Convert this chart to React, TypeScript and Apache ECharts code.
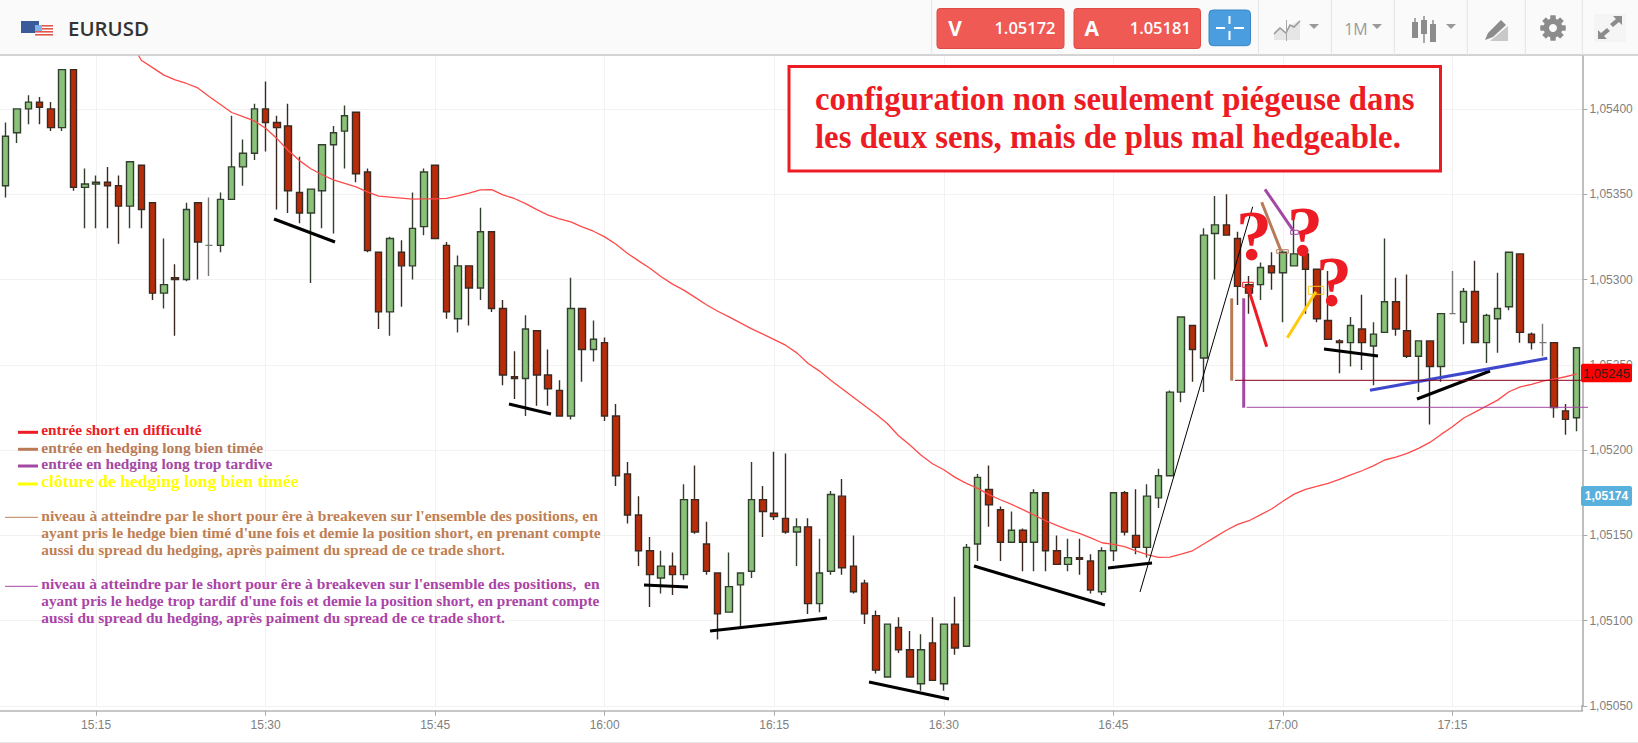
import React, { useEffect, useRef } from "react";
import * as echarts from "echarts";

// candle values, in points above 1.05000 (one point = 0.00001)
const BASE = 1.05;
const POINT = 0.00001;
const opens = [355,386,400,404,400,389,423,354,356,357,355,343,367,345,292,301,300,345,320,320,347,366,374,400,392,390,351,339,352,379,387,398,363,316,281,316,308,331,367,320,277,308,295,328,283,243,242,270,244,235,220,283,259,263,220,186,162,141,125,132,127,171,145,128,105,121,129,171,163,160,152,155,110,129,173,132,122,103,67,96,83,63,87,63,98,85,145,177,165,146,153,146,175,141,133,137,135,117,141,175,150,143,172,185,234,273,254,327,332,324,297,297,308,304,308,315,306,276,264,263,271,261,269,287,270,255,264,249,280,275,293,263,277,284,315,268,263,263,223,219];
const closes = [384,400,404,401,389,423,354,356,357,355,343,369,341,292,297,300,341,322,320,347,366,374,400,392,389,352,339,353,379,386,396,362,317,281,324,308,330,363,324,281,308,295,328,283,244,242,271,244,236,220,283,259,265,220,185,162,141,127,132,127,171,152,129,104,120,128,171,164,161,152,155,110,128,174,131,117,104,71,98,83,67,83,65,98,84,143,184,168,146,153,146,175,141,133,137,136,118,141,175,152,143,173,185,234,278,259,326,332,326,296,292,307,304,316,315,306,277,265,263,273,263,268,287,271,255,264,249,280,280,293,263,279,283,316,269,263,263,225,218,260];
const lows = [348,380,391,391,387,387,352,330,330,330,321,330,330,288,283,267,299,300,302,316,347,355,370,375,341,339,333,298,330,327,365,357,316,271,267,284,300,326,324,277,269,273,288,281,238,230,220,226,226,220,218,240,252,217,179,157,132,108,116,115,124,151,127,89,105,96,125,149,159,151,132,104,105,127,127,116,98,69,67,81,67,59,65,59,80,85,135,155,135,146,129,129,129,133,129,127,116,115,135,150,139,137,166,185,228,240,234,300,326,285,280,288,294,275,308,280,275,265,245,249,247,238,269,267,254,234,215,240,280,262,263,251,257,282,263,259,255,219,209,211];
const highs = [392,400,408,407,404,423,423,365,361,366,361,369,367,345,324,309,345,345,348,351,396,382,403,416,396,403,372,353,379,390,402,398,365,316,325,323,351,365,367,322,314,308,342,328,288,258,279,270,259,241,301,283,276,266,227,193,173,149,141,140,180,191,158,128,140,128,193,179,199,198,160,160,148,176,183,150,124,106,98,102,94,92,102,98,114,145,186,191,167,164,154,177,175,150,148,148,139,143,175,176,177,180,189,235,278,273,330,349,350,328,302,310,316,317,339,315,306,305,265,278,291,275,324,301,303,264,264,280,305,295,311,280,304,316,315,269,274,263,227,260];
const movingAverage = [null,null,null,null,null,null,null,null,null,null,null,440,428.5,424.2,419.8,417,414.9,412.3,407.3,402.6,397.9,395.5,393,388.7,382.6,375.6,369.7,364.9,361.4,358.4,356.3,354.3,351.4,348.9,348.3,347.7,347.1,347.3,347.3,347.5,349,350.6,352.5,352.7,349.6,347.5,344.5,341,337.7,335.5,333.8,330.9,328.3,325,320.7,315.4,310.9,306.6,301.6,297.3,293.8,289.5,285.2,281.4,278.1,274.6,271.1,268,264.8,261.5,257,250.8,246.3,241,236,231,226,221,215.6,208.4,203,197,192,188.5,184,180.5,177.6,173.9,170.9,168.2,165.1,161.9,158.6,155.9,153.3,151.2,148.5,145.7,144.8,143.4,140.9,138.7,137.1,137.3,139,141,145,149,153,156.5,158.6,162,165.5,170,174.2,177,178.7,180.5,182.8,185.5,187.9,190.8,194.2,195.9,198.1,201,204.5,209.2,213.7,218.8,222.3,225.8,229.3,234.2,237.1,238.5,240.4,241.6,243,244.7];

const FIRST_MINUTE = 15 * 60 + 7;
const categories = opens.map((_, i) => {
  const m = FIRST_MINUTE + i;
  return `${Math.floor(m / 60)}:${String(m % 60).padStart(2, "0")}`;
});
const isQuarter = (i: number) => (FIRST_MINUTE + i) % 15 === 0;

const priceLabel = (v: number) => v.toFixed(5).replace(".", ",");

const legendShort = "entrée short en difficulté";
const legendHedgeGood = "entrée en hedging long bien timée";
const legendHedgeLate = "entrée en hedging long trop tardive";
const legendClose = "clôture de hedging long bien timée";
const noteGood = [
  "niveau à atteindre par le short pour êre à breakeven sur l'ensemble des positions, en",
  "ayant pris le hedge bien timé d'une fois et demie la position short, en prenant compte",
  "aussi du spread du hedging, après paiment du spread de ce trade short.",
];
const noteLate = [
  "niveau à atteindre par le short pour êre à breakeven sur l'ensemble des positions,  en",
  "ayant pris le hedge trop tardif d'une fois et demie la position short, en prenant compte",
  "aussi du spread du hedging, après paiment du spread de ce trade short.",
];
const titleLines = ["configuration non seulement piégeuse dans", "les deux sens, mais de plus mal hedgeable."];

const RED = "#ed1c24";
const BROWN = "#b97a57";
const PURPLE = "#a349a4";
const AMBER = "#ffc90e";
const SERIF = '"Liberation Serif", serif';
const SANS = '"Liberation Sans", sans-serif';
const OPEN = '"Open Sans", sans-serif';

const seg = (x1: number, y1: number, x2: number, y2: number, stroke: string, lineWidth = 3, z = 60) => ({
  type: "line", silent: true, z, shape: { x1, y1, x2, y2 }, style: { stroke, lineWidth },
});
const box = (x: number, y: number, w: number, h: number, fill: string, stroke?: string, lineWidth = 1, r = 0, z = 60) => ({
  type: "rect", silent: true, z, shape: { x, y, width: w, height: h, r },
  style: { fill, stroke: stroke || "none", lineWidth },
});
const txt = (text: string, x: number, y: number, font: string, fill: string, textAlign = "left", z = 70) => ({
  type: "text", silent: true, z, style: { text, x, y, font, fill, textAlign, textVerticalAlign: "middle" },
});
const tri = (cx: number, y: number, z = 70) => ({
  type: "polygon", silent: true, z, shape: { points: [[cx - 5, y], [cx + 5, y], [cx, y + 5]] }, style: { fill: "#9a9a9a" },
});

function annotations(): any[] {
  const out: any[] = [];
  // black trend lines
  [
    [274, 219, 335, 242], [509, 404, 551, 414], [644, 585, 688, 587], [710, 631, 827, 618],
    [869, 682, 949, 699], [974, 566, 1105, 605], [1108, 568, 1152, 563],
    [1324, 349, 1378, 356], [1417, 399, 1490, 371],
  ].forEach((s) => out.push(seg(s[0], s[1], s[2], s[3], "#000")));
  out.push(seg(1140, 592, 1252.7, 206.7, "#000", 1));
  out.push(seg(1370, 390.3, 1547.3, 358.3, "#3f48cc"));
  // entries
  out.push(seg(1261.7, 202.3, 1281, 251, BROWN));
  out.push(seg(1265, 189.3, 1293.3, 230.7, PURPLE));
  out.push(seg(1248.3, 288.3, 1266.7, 346.7, RED));
  out.push(seg(1287.3, 337.7, 1316, 291.7, AMBER));
  out.push(box(1290.7, 230.3, 7.6, 4, "none", PURPLE, 1));
  out.push(box(1276.7, 249.7, 11.6, 3.6, "none", BROWN, 1));
  out.push(box(1242.7, 282.3, 10.6, 5, "none", RED, 1));
  out.push(box(1308.3, 286.3, 15.4, 8, "none", AMBER, 1));
  // levels
  out.push(seg(1231.7, 298.3, 1231.7, 380.7, BROWN));
  out.push(seg(1243.7, 298.3, 1243.7, 407.7, PURPLE));
  out.push(seg(1235, 380.3, 1587, 380.3, "#880015", 1));
  out.push(seg(1246.7, 407.3, 1588, 407.3, PURPLE, 1));
  // question marks
  const qFont = `bold 72px ${SERIF}`;
  out.push(txt("?", 1254, 236, qFont, RED, "center"));
  out.push(txt("?", 1305, 232, qFont, RED, "center"));
  out.push(txt("?", 1334, 282, qFont, RED, "center"));
  // title box
  out.push(box(789, 66.5, 651.5, 104.5, "#fff", RED, 3));
  const tFont = `bold 32.8px ${SERIF}`;
  out.push(txt(titleLines[0], 815, 99, tFont, RED));
  out.push(txt(titleLines[1], 815, 137, tFont, RED));
  // legend
  const lf = (size: number) => `bold ${size}px ${SERIF}`;
  out.push(seg(18, 432.3, 38, 432.3, RED));
  out.push(txt(legendShort, 41.3, 429.6, lf(15.3), RED));
  out.push(seg(18, 449.3, 38, 449.3, BROWN));
  out.push(txt(legendHedgeGood, 41.3, 447, lf(15.5), BROWN));
  out.push(seg(18, 466, 38, 466, PURPLE));
  out.push(txt(legendHedgeLate, 41.3, 463.7, lf(15.4), PURPLE));
  out.push(seg(18, 484, 38, 484, "#ffff00"));
  out.push(txt(legendClose, 41.3, 481.2, lf(17.6), "#ffff00"));
  out.push(seg(5, 517.3, 38, 517.3, "#c0805a", 1));
  const goodSizes = [15.6, 15.5, 15.3];
  noteGood.forEach((t, i) => out.push(txt(t, 41.3, 515.7 + 17 * i, lf(goodSizes[i]), "#bf7f53")));
  out.push(seg(5, 586.3, 38, 586.3, PURPLE, 1));
  const lateSizes = [15.54, 15.24, 15.3];
  noteLate.forEach((t, i) => out.push(txt(t, 41.3, 583.7 + 17 * i, lf(lateSizes[i]), "#ab44a8")));
  // price tags
  out.push(box(1581, 363.7, 51, 18.6, "#ff0000", undefined, 1, 2, 65));
  out.push(txt(priceLabel(1.05245), 1606.5, 373.3, `13px ${SANS}`, "#3a1a1a", "center"));
  out.push(box(1581, 486, 51, 20, "#5ab0dc", undefined, 1, 2, 65));
  out.push(txt(priceLabel(1.05174), 1606.5, 496, `bold 12px ${SANS}`, "#fff", "center"));
  out.push(seg(1582, 705, 1582, 711, "#aaaaaa", 1.5, 40));
  out.push(seg(0, 742.5, 1638, 742.5, "#e6e6e6", 1, 40));
  return out;
}

function header(): any[] {
  const z = 50;
  const h: any[] = [];
  h.push(box(0, 0, 1638, 55, "#fafafa", undefined, 1, 0, z));
  h.push(seg(0, 55, 1638, 55, "#c9c9c9", 1.5, z));
  // flags
  h.push(box(21, 21, 18, 12, "#3a5a9c", undefined, 1, 0, z + 1));
  h.push(box(35, 25, 18, 12, "#fff", undefined, 1, 0, z + 2));
  [25, 28, 31, 34].forEach((y) => h.push(box(35, y, 18, 1.6, "#e2574c", undefined, 1, 0, z + 3)));
  h.push(box(35, 25, 7, 6, "#7fb2e5", undefined, 1, 0, z + 4));
  h.push(txt("EURUSD", 68, 28, `600 20.4px ${OPEN}`, "#333"));
  // separators
  [931.7, 1258.5, 1331.4, 1394.3, 1467.3, 1525.3, 1582.3].forEach((x) => h.push(seg(x, 0, x, 55, "#e4e4e4", 1, z + 1)));
  // quote buttons
  h.push(box(937, 8.5, 127, 40, "#ef5a55", "#dd4a45", 1, 3, z + 1));
  h.push(txt("V", 955, 28, `bold 21px ${OPEN}`, "#fff", "center"));
  h.push(txt("1.05172", 1025, 27.5, `600 16.5px ${OPEN}`, "#fff", "center"));
  h.push(box(1074, 8.5, 126.5, 40, "#ef5a55", "#dd4a45", 1, 3, z + 1));
  h.push(txt("A", 1091.7, 28, `bold 21px ${OPEN}`, "#fff", "center"));
  h.push(txt("1.05181", 1160.3, 27.5, `600 16.5px ${OPEN}`, "#fff", "center"));
  // crosshair button
  h.push(box(1209, 10, 41.5, 35.7, "#4a9ee0", "#3b86c4", 1, 4, z + 1));
  [[1229.5, 16, 1229.5, 24], [1229.5, 31, 1229.5, 40], [1216, 28, 1225, 28], [1234, 28, 1244, 28]].forEach((s) =>
    h.push(seg(s[0], s[1], s[2], s[3], "#fff", 2, z + 2))
  );
  // chart type icon
  h.push({ type: "polygon", silent: true, z: z + 1, shape: { points: [[1274, 40], [1274, 32], [1280, 27], [1286, 33], [1286, 40]] }, style: { fill: "#e6e6e6" } });
  h.push({ type: "polygon", silent: true, z: z + 1, shape: { points: [[1287, 40], [1287, 28], [1293, 24], [1300, 20], [1300, 40]] }, style: { fill: "#e6e6e6" } });
  h.push({ type: "polyline", silent: true, z: z + 2, shape: { points: [[1274, 34], [1280, 28], [1286, 33], [1290, 25], [1294, 27], [1300, 21]] }, style: { stroke: "#9a9a9a", lineWidth: 1.5, fill: "none" } });
  h.push(seg(1286.5, 20, 1286.5, 41, "#a8a8a8", 1, z + 2));
  h.push(tri(1314, 24));
  h.push(txt("1M", 1356, 29, `16px ${OPEN}`, "#9a9a9a", "center"));
  h.push(tri(1377, 24));
  // candle icon
  [[1415, 18, 30, 22, 38], [1424, 16, 26, 20, 43], [1433, 20, 34, 24, 41]].forEach((c) => {
    h.push(seg(c[0], c[1], c[0], c[4], "#8c8c8c", 1.5, z + 1));
    h.push(box(c[0] - 3, c[3], 6, c[2] - c[3] + 8, "#8c8c8c", undefined, 1, 0, z + 2));
  });
  h.push(tri(1451, 24));
  // pencil icon
  h.push({ type: "polygon", silent: true, z: z + 1, shape: { points: [[1490, 41], [1508, 26], [1508, 41]] }, style: { fill: "#c8c8c8" } });
  h.push({ type: "polygon", silent: true, z: z + 2, shape: { points: [[1485, 40], [1488, 33], [1501, 20], [1506, 25], [1493, 37]] }, style: { fill: "#8c8c8c" } });
  // gear
  for (let i = 0; i < 8; i++) {
    h.push({ type: "rect", silent: true, z: z + 1, x: 1553, y: 28, rotation: (i * Math.PI) / 4, shape: { x: -2.5, y: -12.5, width: 5, height: 25 }, style: { fill: "#8c8c8c" } });
  }
  h.push({ type: "circle", silent: true, z: z + 2, shape: { cx: 1553, cy: 28, r: 9.5 }, style: { fill: "#8c8c8c" } });
  h.push({ type: "circle", silent: true, z: z + 3, shape: { cx: 1553, cy: 28, r: 4 }, style: { fill: "#fafafa" } });
  // fullscreen
  h.push(box(1594, 14, 32, 28, "#f5f5f5", undefined, 1, 0, z + 1));
  h.push({ type: "polygon", silent: true, z: z + 2, shape: { points: [[1622, 16], [1622, 25], [1619, 22], [1613, 27], [1610, 24], [1616, 19], [1613, 16]] }, style: { fill: "#8c8c8c" } });
  h.push({ type: "polygon", silent: true, z: z + 2, shape: { points: [[1598, 39], [1598, 30], [1601, 33], [1607, 28], [1610, 31], [1604, 36], [1607, 39]] }, style: { fill: "#8c8c8c" } });
  return h;
}

export default function App() {
  const ref = useRef<HTMLDivElement>(null);
  useEffect(() => {
    document.body.style.margin = "0";
    const chart = echarts.init(ref.current!, null, { renderer: "svg" });
    const toPrice = (p: number) => +(BASE + p * POINT).toFixed(6);
    chart.setOption({
      animation: false,
      backgroundColor: "#fff",
      grid: { left: -1, top: 55, width: 1583.4, height: 651, containLabel: false },
      xAxis: {
        type: "category",
        data: categories,
        boundaryGap: true,
        offset: 4.7,
        axisLine: { lineStyle: { color: "#b4b4b4", width: 1.5 } },
        axisTick: { show: true, alignWithLabel: true, length: 5, interval: (i: number) => isQuarter(i), lineStyle: { color: "#aaaaaa" } },
        axisLabel: { interval: (i: number) => isQuarter(i), color: "#808080", fontSize: 12, fontFamily: "Liberation Sans", margin: 8 },
        splitLine: { show: true, alignWithLabel: true, interval: (i: number) => isQuarter(i), lineStyle: { color: "#f2f2f2", width: 1 } },
      },
      yAxis: {
        type: "value",
        position: "right",
        min: 1.0505,
        max: 1.054316,
        interval: 0.0005,
        scale: true,
        axisLine: { show: true, lineStyle: { color: "#aaaaaa", width: 1.5 } },
        axisTick: { show: true, length: 5, lineStyle: { color: "#aaaaaa" } },
        axisLabel: {
          color: "#808080",
          fontSize: 12,
          fontFamily: "Liberation Sans",
          margin: 7,
          showMaxLabel: false,
          formatter: (v: number) => (Math.abs(v / 0.0005 - Math.round(v / 0.0005)) < 1e-6 ? priceLabel(v) : ""),
        },
        splitLine: { show: true, lineStyle: { color: "#f2f2f2", width: 1 } },
      },
      series: [
        {
          type: "candlestick",
          barWidth: 7,
          data: opens.map((o, i) => [toPrice(o), toPrice(closes[i]), toPrice(lows[i]), toPrice(highs[i])]),
          itemStyle: {
            color: "#8bc27a",
            color0: "#b82c0a",
            borderColor: "#333f2e",
            borderColor0: "#3a2a22",
            borderColorDoji: "#777777",
            borderWidth: 1.4,
          },
          z: 2,
        },
        {
          type: "line",
          data: movingAverage.map((p) => (p === null ? null : toPrice(p))),
          symbol: "none",
          connectNulls: false,
          clip: true,
          lineStyle: { color: "#ff4a4a", width: 1.3 },
          z: 3,
        },
      ],
      graphic: { elements: [...annotations(), ...header()] },
    });
    return () => chart.dispose();
  }, []);
  return <div ref={ref} style={{ width: 1638, height: 743 }} />;
}
